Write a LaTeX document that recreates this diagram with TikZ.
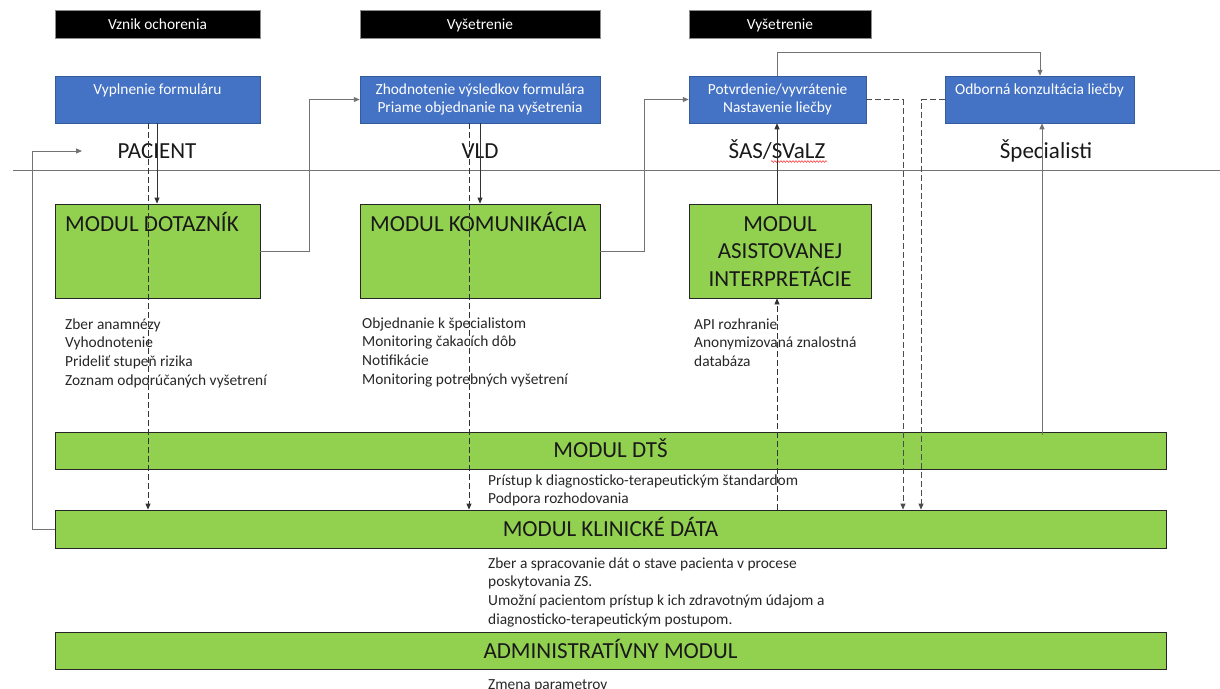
\documentclass[tikz,border=0pt]{standalone}
\usepackage{fontspec}
\setmainfont{Carlito}
\usetikzlibrary{arrows.meta,fit,calc,decorations.pathmorphing}
\definecolor{hdrblue}{HTML}{4472C4}
\definecolor{modgreen}{HTML}{92D050}
\tikzset{
  x=1pt, y=-1pt,
  phase/.style={fill=black, draw=black!45, line width=0.6pt, inner sep=0pt},
  task/.style={fill=hdrblue, draw=hdrblue!80!black, line width=0.5pt, inner sep=0pt},
  module/.style={fill=modgreen, draw=black!85, line width=0.8pt, inner sep=0pt},
  small/.style={font=\fontsize{15.4}{18.7}\selectfont, inner sep=0pt},
  whitetxt/.style={small, text=white, align=center},
  note/.style={small, text=black!85, align=left, anchor=base west},
  big/.style={font=\fontsize{23}{27.5}\selectfont, inner sep=0pt, text=black!90},
  tip/.style={-{Triangle[length=6pt,width=5pt]}},
  flow/.style={tip, draw=black!80, line width=0.8pt},
  flowgray/.style={tip, draw=black!55, line width=1pt},
  feed/.style={tip, draw=black!80, line width=0.8pt, dash pattern=on 6pt off 3pt},
}
\begin{document}
\begin{tikzpicture}
\useasboundingbox (0,0) rectangle (1220,688);

% actors separator
\draw[black!55, line width=1pt] (13,170) -- (1220,170);

% phase headers
\node[phase, fit={(55,10) (260,38)}] (h1) {};
\node[phase, fit={(360,10) (600,38)}] (h2) {};
\node[phase, fit={(689,10) (871,38)}] (h3) {};
\node[whitetxt, anchor=base] (h1t) at (157.5,29) {Vznik ochorenia};
\node[whitetxt, anchor=base] (h2t) at (480,29) {Vyšetrenie};
\node[whitetxt, anchor=base] (h3t) at (780,29) {Vyšetrenie};

% actor tasks (multi-line nodes are placed by the baseline of their last line)
\node[task, fit={(55,76) (260,123)}] (b1) {};
\node[task, fit={(360,76) (600,123)}] (b2) {};
\node[task, fit={(689,76) (866,123)}] (b3) {};
\node[task, fit={(945,76) (1134,123)}] (b4) {};
\node[whitetxt, anchor=base] (b1t) at (157.5,94) {Vyplnenie formuláru};
\node[whitetxt, anchor=base] (b2t) at (480,112.7) {Zhodnotenie výsledkov formulára\\Priame objednanie na vyšetrenia};
\node[whitetxt, anchor=base] (b3t) at (777.5,112.7) {Potvrdenie/vyvrátenie\\Nastavenie liečby};
\node[whitetxt, anchor=base] (b4t) at (1039.5,94) {Odborná konzultácia liečby};

% actors
\node[big, anchor=base] (a1) at (157,158) {PACIENT};
\node[big, anchor=base] (a2) at (480,158) {VLD};
\node[big, anchor=base] (a3) at (777,158) {ŠAS/SVaLZ};
\node[big, anchor=base] (a4) at (1046,158) {Špecialisti};
\draw[red!85, line width=0.5pt, decorate, decoration={snake, amplitude=0.9pt, segment length=3pt}]
  (771,161.5) -- (827,161.5);

% modules
\node[module, fit={(55,204) (260,298)}] (g1) {};
\node[module, fit={(360,204) (600,298)}] (g2) {};
\node[module, fit={(689,204) (871,298)}] (g3) {};
\node[big, anchor=base west] (g1t) at (65,231) {MODUL DOTAZNÍK};
\node[big, anchor=base west] (g2t) at (370,231) {MODUL KOMUNIKÁCIA};
\node[big, anchor=base, align=center] (g3t) at (780,286) {MODUL\\ASISTOVANEJ\\INTERPRETÁCIE};

\node[note] (n1) at (65,385.1) {Zber anamnézy\\Vyhodnotenie\\Prideliť stupeň rizika\\Zoznam odporúčaných vyšetrení};
\node[note] (n2) at (362,384.1) {Objednanie k špecialistom\\Monitoring čakacích dôb\\Notifikácie\\Monitoring potrebných vyšetrení};
\node[note] (n3) at (694,366.4) {API rozhranie\\Anonymizovaná znalostná\\databáza};

% shared modules
\node[module, fit={(55,432) (1166,469)}] (dts) {};
\node[module, fit={(55,510) (1166,548)}] (kd) {};
\node[module, fit={(55,632) (1166,669)}] (adm) {};
\node[big, anchor=base] (dtst) at (610.5,457) {MODUL DTŠ};
\node[big, anchor=base] (kdt) at (610.5,536) {MODUL KLINICKÉ DÁTA};
\node[big, anchor=base] (admt) at (610.5,658) {ADMINISTRATÍVNY MODUL};
\node[note] (n4) at (488,503.7) {Prístup k diagnosticko-terapeutickým štandardom\\Podpora rozhodovania};
\node[note] (n5) at (488,624.1) {Zber a spracovanie dát o stave pacienta v procese\\poskytovania ZS.\\Umožní pacientom prístup k ich zdravotným údajom a\\diagnosticko-terapeutickým postupom.};
\node[note] (n6) at (488,689) {Zmena parametrov};

% process flow
\draw[flow] (157,0 |- b1.south) -- (157,0 |- g1.north);
\draw[flowgray] (g1.east) -| ($(b2.west)+(-50,0)$) -- (b2.west);
\draw[flow] (480,0 |- b2.south) -- (480,0 |- g2.north);
\draw[flowgray] (g2.east) -| ($(b3.west)+(-44,0)$) -- (b3.west);
\draw[flow] (777,0 |- g3.north) -- (777,0 |- b3.south);
\draw[flowgray] (777,0 |- b3.north) -- (777,52) -| (1040,0 |- b4.north);
\draw[flowgray] ($(1042,0 |- dts.north)+(0,3)$) -- (1042,0 |- b4.south);

% feedback to the patient
\coordinate (back) at (82,151);
\draw[flowgray] (kd.west) -- (32,0 |- kd.west) |- (back);

% data flows into clinical data
\draw[feed] (148,0 |- b1.south) -- (148,0 |- kd.north);
\draw[feed] (469,0 |- b2.south) -- (469,0 |- kd.north);
\draw[feed] (777,0 |- kd.north) -- (777,0 |- g3.south);
\draw[feed, draw=black!70] (b3.east) -| (903,0 |- kd.north);
\draw[feed, draw=black!70] (b4.west) -| (921,0 |- kd.north);
\end{tikzpicture}
\end{document}
